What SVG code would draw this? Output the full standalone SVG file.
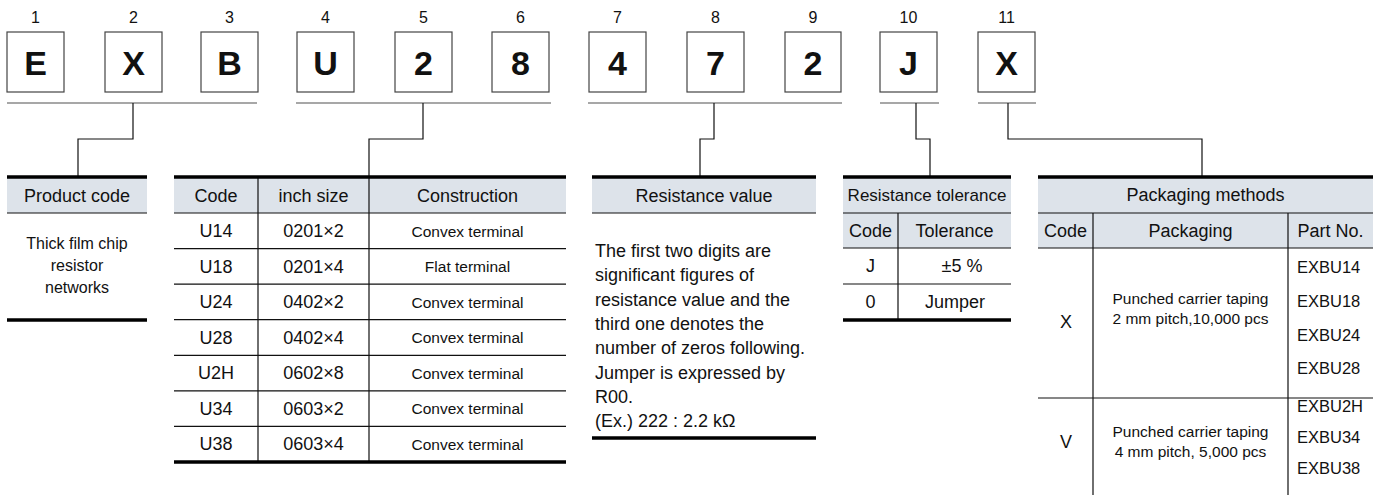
<svg xmlns="http://www.w3.org/2000/svg" width="1379" height="495" viewBox="0 0 1379 495">
<style>
text{font-family:"Liberation Sans",Arial,sans-serif;fill:#111;text-anchor:middle}
.num{font-size:16px}
.big{font-size:34px;font-weight:bold}
.box{fill:#fff;stroke:#444;stroke-width:1.2}
.ul{stroke:#8a8a8a;stroke-width:1.6;fill:none}
.con{stroke:#111;stroke-width:1.2;fill:none}
.thick{stroke:#000;stroke-width:3.5}
.thin{stroke:#111;stroke-width:1.2}
.hdr{fill:#dde3ea}
.h{font-size:18px}
.b{font-size:18px}
.s{font-size:15.5px}
.p{font-size:15.5px}
.e{font-size:16.5px;text-anchor:start}
.l{text-anchor:start}
</style>
<rect width="1379" height="495" fill="#fff"/>
<g id="digits">
<text class="num" x="35.5" y="23">1</text>
<text class="num" x="133.5" y="23">2</text>
<text class="num" x="229.5" y="23">3</text>
<text class="num" x="325.5" y="23">4</text>
<text class="num" x="423.5" y="23">5</text>
<text class="num" x="520.5" y="23">6</text>
<text class="num" x="617.5" y="23">7</text>
<text class="num" x="715.5" y="23">8</text>
<text class="num" x="813" y="23">9</text>
<text class="num" x="908.5" y="23">10</text>
<text class="num" x="1006.5" y="23">11</text>
</g>
<g id="boxes">
<rect class="box" x="7" y="32" width="57" height="60"/><text class="big" x="35.5" y="75">E</text>
<rect class="box" x="105" y="32" width="57" height="60"/><text class="big" x="133.5" y="75">X</text>
<rect class="box" x="201" y="32" width="57" height="60"/><text class="big" x="229.5" y="75">B</text>
<rect class="box" x="297" y="32" width="57" height="60"/><text class="big" x="325.5" y="75">U</text>
<rect class="box" x="395" y="32" width="57" height="60"/><text class="big" x="423.5" y="75">2</text>
<rect class="box" x="492" y="32" width="57" height="60"/><text class="big" x="520.5" y="75">8</text>
<rect class="box" x="589" y="32" width="57" height="60"/><text class="big" x="617.5" y="75">4</text>
<rect class="box" x="687" y="32" width="57" height="60"/><text class="big" x="715.5" y="75">7</text>
<rect class="box" x="785" y="32" width="56" height="60"/><text class="big" x="813" y="75">2</text>
<rect class="box" x="880" y="32" width="57" height="60"/><text class="big" x="908.5" y="75">J</text>
<rect class="box" x="978" y="32" width="57" height="60"/><text class="big" x="1006.5" y="75">X</text>
</g>
<g id="connectors">
<path class="ul" d="M7,103H257M296,103H551M588,103H842M880,103H939M978,103H1036"/>
<path class="con" d="M133,103V139H78V177"/>
<path class="con" d="M423,103V139H369V177"/>
<path class="con" d="M714,103V139H700V177"/>
<path class="con" d="M916,103V139H930V177"/>
<path class="con" d="M1008,103V139H1202V177"/>
</g>
<g id="product-code">
<rect class="hdr" x="7" y="177" width="140" height="36"/>
<line class="thin" x1="7" y1="213" x2="147" y2="213"/>
<line class="thick" x1="7" y1="177" x2="147" y2="177"/>
<line class="thick" x1="7" y1="320" x2="147" y2="320"/>
<text class="h" x="77" y="201.5">Product code</text>
<text style="font-size:16px" x="77" y="249">Thick film chip</text>
<text style="font-size:16px" x="77" y="271">resistor</text>
<text style="font-size:16px" x="77" y="293">networks</text>
</g>
<g id="code-table">
<rect class="hdr" x="174" y="177" width="392" height="36"/>
<path class="thin" d="M174,213H566M174,248.6H566M174,284.1H566M174,319.7H566M174,355.3H566M174,390.9H566M174,426.4H566M258,177V462M369,177V462"/>
<line class="thick" x1="174" y1="177" x2="566" y2="177"/>
<line class="thick" x1="174" y1="462" x2="566" y2="462"/>
<text class="h" x="216" y="201.5">Code</text>
<text class="h" x="313.5" y="201.5">inch size</text>
<text class="h" x="467.5" y="201.5">Construction</text>
<text class="b" x="216" y="237">U14</text><text class="b" x="313.5" y="237">0201×2</text><text class="s" x="467.5" y="236.5">Convex terminal</text>
<text class="b" x="216" y="272.5">U18</text><text class="b" x="313.5" y="272.5">0201×4</text><text class="s" x="467.5" y="272">Flat terminal</text>
<text class="b" x="216" y="308">U24</text><text class="b" x="313.5" y="308">0402×2</text><text class="s" x="467.5" y="307.5">Convex terminal</text>
<text class="b" x="216" y="343.5">U28</text><text class="b" x="313.5" y="343.5">0402×4</text><text class="s" x="467.5" y="343">Convex terminal</text>
<text class="b" x="216" y="379">U2H</text><text class="b" x="313.5" y="379">0602×8</text><text class="s" x="467.5" y="378.5">Convex terminal</text>
<text class="b" x="216" y="414.5">U34</text><text class="b" x="313.5" y="414.5">0603×2</text><text class="s" x="467.5" y="414">Convex terminal</text>
<text class="b" x="216" y="450">U38</text><text class="b" x="313.5" y="450">0603×4</text><text class="s" x="467.5" y="449.5">Convex terminal</text>
</g>
<g id="resistance-value">
<rect class="hdr" x="592" y="177" width="224" height="36"/>
<line class="thin" x1="592" y1="213" x2="816" y2="213"/>
<line class="thick" x1="592" y1="177" x2="816" y2="177"/>
<line class="thick" x1="592" y1="438" x2="816" y2="438"/>
<text class="h" x="704" y="201.5">Resistance value</text>
<text class="b l" x="595" y="257">The first two digits are</text>
<text class="b l" x="595" y="281.3">significant figures of</text>
<text class="b l" x="595" y="305.6">resistance value and the</text>
<text class="b l" x="595" y="329.9">third one denotes the</text>
<text class="b l" x="595" y="354.2">number of zeros following.</text>
<text class="b l" x="595" y="378.5">Jumper is expressed by</text>
<text class="b l" x="595" y="402.8">R00.</text>
<text class="b l" x="595" y="427">(Ex.) 222 : 2.2 kΩ</text>
</g>
<g id="tolerance">
<rect class="hdr" x="843" y="177" width="168" height="71"/>
<path class="thin" d="M843,213H1011M843,248H1011M843,284H1011M898,213V320"/>
<line class="thick" x1="843" y1="177" x2="1011" y2="177"/>
<line class="thick" x1="843" y1="320" x2="1011" y2="320"/>
<text style="font-size:17px" x="927" y="201">Resistance tolerance</text>
<text class="h" x="870.5" y="236.5">Code</text>
<text class="h" x="954.5" y="236.5">Tolerance</text>
<text class="b" x="870.5" y="272">J</text>
<text class="b" x="962" y="272">±5 %</text>
<text class="b" x="870.5" y="308">0</text>
<text class="b" x="955" y="308">Jumper</text>
</g>
<g id="packaging">
<rect class="hdr" x="1038" y="177" width="335" height="71"/>
<path class="thin" d="M1038,213H1373M1038,248H1373M1038,398H1373M1093,213V495M1288,213V495"/>
<line class="thick" x1="1038" y1="177" x2="1373" y2="177"/>
<text class="h" x="1205.5" y="201">Packaging methods</text>
<text class="h" x="1065.5" y="236.5">Code</text>
<text class="h" x="1190.5" y="236.5">Packaging</text>
<text class="h" x="1330.5" y="236.5">Part No.</text>
<text class="b" x="1066" y="328">X</text>
<text class="p" x="1190.5" y="304">Punched carrier taping</text>
<text class="p" x="1190.5" y="324">2 mm pitch,10,000 pcs</text>
<text class="b" x="1066" y="448">V</text>
<text class="p" x="1190.5" y="437">Punched carrier taping</text>
<text class="p" x="1190.5" y="457">4 mm pitch, 5,000 pcs</text>
<text class="e" x="1297" y="273">EXBU14</text>
<text class="e" x="1297" y="307">EXBU18</text>
<text class="e" x="1297" y="341">EXBU24</text>
<text class="e" x="1297" y="374">EXBU28</text>
<text class="e" x="1297" y="412">EXBU2H</text>
<text class="e" x="1297" y="443">EXBU34</text>
<text class="e" x="1297" y="474">EXBU38</text>
</g>
</svg>
